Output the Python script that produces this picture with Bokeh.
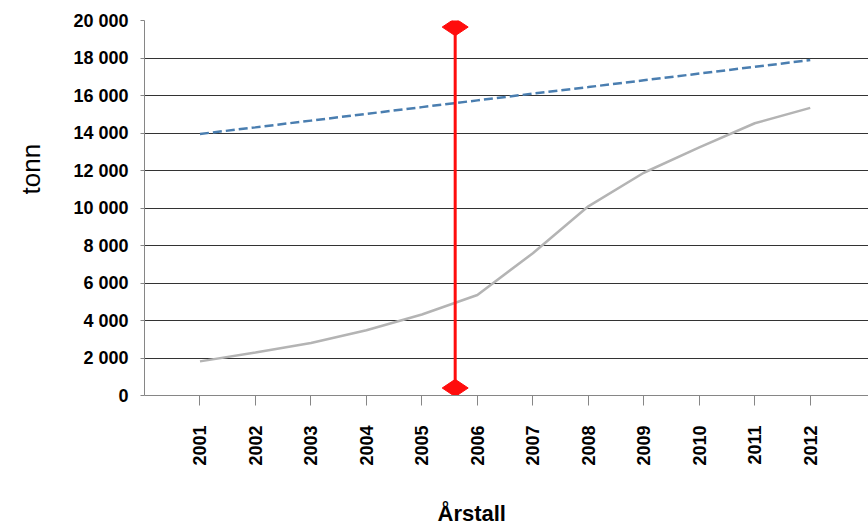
import math
from bokeh.plotting import figure
from bokeh.models import Range1d, FixedTicker, Title, LinearAxis
from bokeh.embed import file_html
from bokeh.resources import INLINE

# ---- data ----
years = [2001, 2002, 2003, 2004, 2005, 2006, 2007, 2008, 2009, 2010, 2011, 2012]
blue_values = [13950, 14300, 14660, 15020, 15380, 15740, 16100, 16450, 16810, 17170, 17530, 17890]
grey_values = [1820, 2290, 2800, 3480, 4320, 5360, 7590, 10090, 11880, 13230, 14520, 15340]
marker_year = [2005.6]
marker_low = [400]
marker_high = [19650]
y_ticks = [0, 2000, 4000, 6000, 8000, 10000, 12000, 14000, 16000, 18000, 20000]
y_tick_labels = ["0", "2 000", "4 000", "6 000", "8 000", "10 000", "12 000",
                 "14 000", "16 000", "18 000", "20 000"]
x_label = "Årstall"
y_label = "tonn"

FONT = "Liberation Sans"

p = figure(width=868, height=525, output_backend="svg", toolbar_location=None,
           x_range=Range1d(2000, 2013.05), y_range=Range1d(0, 20000),
           min_border_left=144, min_border_right=0, min_border_top=20,
           min_border_bottom=130)
p.outline_line_color = None
p.background_fill_color = "white"
p.border_fill_color = "white"

# grid
p.xgrid.visible = False
p.ygrid.ticker = FixedTicker(ticks=y_ticks)
p.ygrid.grid_line_color = "#333333"
p.ygrid.grid_line_width = 1

# y axis
p.yaxis.ticker = FixedTicker(ticks=y_ticks)
p.yaxis.major_label_overrides = {t: l for t, l in zip(y_ticks, y_tick_labels)}
p.yaxis.axis_line_color = "#868686"
p.yaxis.major_tick_line_color = "#868686"
p.yaxis.major_tick_out = 4
p.yaxis.major_tick_in = 0
p.yaxis.minor_tick_line_color = None
p.yaxis.major_label_text_font = FONT
p.yaxis.major_label_text_font_style = "bold"
p.yaxis.major_label_text_font_size = "18px"
p.yaxis.major_label_text_color = "black"
p.yaxis.major_label_standoff = 12

# x axis
p.xaxis.ticker = FixedTicker(ticks=years)
p.xaxis.axis_line_color = "#868686"
p.xaxis.major_tick_line_color = "#868686"
p.xaxis.major_tick_out = 10
p.xaxis.major_tick_in = 0
p.xaxis.minor_tick_line_color = None
p.xaxis.major_label_orientation = math.pi / 2
p.xaxis.major_label_text_font = FONT
p.xaxis.major_label_text_font_style = "bold"
p.xaxis.major_label_text_font_size = "18px"
p.xaxis.major_label_text_color = "black"
p.xaxis.major_label_standoff = 20

# series
p.line(years, grey_values, line_color="#b4b4b4", line_width=2.5)
p.line(years, blue_values, line_color="#4a7eb0", line_width=2.5, line_dash="9 4")

# red marker line
p.segment(x0=marker_year, y0=marker_low, x1=marker_year, y1=marker_high,
          line_color="#ff0d0d", line_width=3)
p.scatter(marker_year + marker_year, marker_low + marker_high, marker="diamond",
          size=26, angle=math.pi / 2, fill_color="#ff0d0d", line_color="#ff0d0d")

# blank spacer (white tick, empty label) below the x axis, then the x title
spacer_b = LinearAxis(ticker=FixedTicker(ticks=[2000.02]), axis_line_color=None,
                      major_tick_line_color="white", minor_tick_line_color=None,
                      major_tick_out=30, major_tick_in=0, minor_tick_out=0,
                      major_label_overrides={2000.02: ""}, major_label_standoff=0)
p.add_layout(spacer_b, "below")
p.add_layout(Title(text=x_label, align="left", offset=293, standoff=0,
                   vertical_align="bottom",
                   text_font=FONT, text_font_style="bold", text_font_size="22px",
                   text_color="black"), "below")

# blank spacer left of the y axis, then the y title
spacer_l = LinearAxis(ticker=FixedTicker(ticks=[19000]), axis_line_color=None,
                      major_tick_line_color="white", minor_tick_line_color=None,
                      major_tick_out=25, major_tick_in=0, minor_tick_out=0,
                      major_label_overrides={19000: ""}, major_label_standoff=0)
p.add_layout(spacer_l, "left")
p.add_layout(Title(text=y_label, align="left", offset=201, standoff=0,
                   vertical_align="bottom",
                   text_font=FONT, text_font_style="normal", text_font_size="26px",
                   text_color="black"), "left")

open("out.html", "w").write(file_html(p, INLINE))
